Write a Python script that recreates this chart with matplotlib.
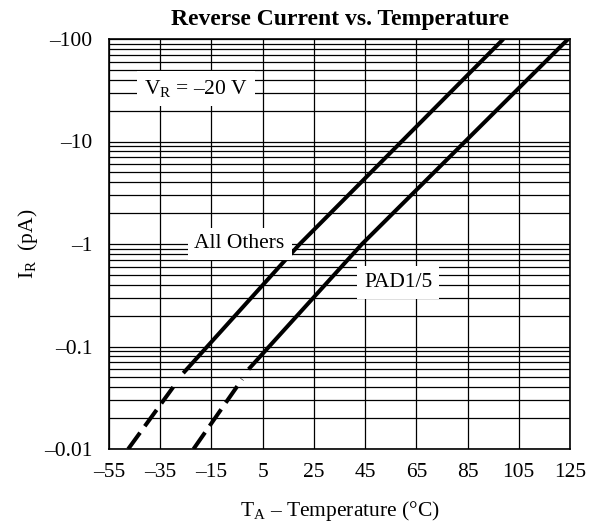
import matplotlib
matplotlib.use("Agg")
import matplotlib.pyplot as plt

plt.rcParams['font.family'] = ['Liberation Serif', 'DejaVu Serif']
plt.rcParams['mathtext.fontset'] = 'custom'
plt.rcParams['mathtext.rm'] = 'Liberation Serif'
plt.rcParams['mathtext.it'] = 'Liberation Serif:italic'

# Dados (temperatura em °C, corrente em pA)
others_dash_T = [-47.5, -28.5]
others_dash_I = [0.01, 0.045]
others_T = [-26, 19.5, 99]
others_I = [0.055, 1, 100]

pad_dash_T = [-22, -3]
pad_dash_I = [0.01, 0.048]
pad_T = [-0.5, 43.8, 124.3]
pad_I = [0.06, 1, 100]

x_ticks = [-55, -35, -15, 5, 25, 45, 65, 85, 105, 125]
y_ticks = [0.01, 0.1, 1, 10, 100]
y_labels = ['–0.01', '–0.1', '–1', '–10', '–100']

fs = 15.5

fig = plt.figure(figsize=(5.94, 5.27), dpi=100)
ax = fig.add_axes([109/594, 1 - 449/527, (570 - 109)/594, (449 - 39)/527])

ax.set_yscale('log')
ax.set_xlim(-55, 125)
ax.set_ylim(0.01, 100)

# grade
ax.set_xticks(x_ticks)
ax.set_xticklabels(['–' + str(abs(t)) if t < 0 else str(t) for t in x_ticks])
ax.set_yticks(y_ticks)
ax.set_yticklabels(y_labels)
ax.yaxis.set_minor_locator(matplotlib.ticker.LogLocator(base=10, subs=range(2, 10)))
ax.yaxis.set_minor_formatter(matplotlib.ticker.NullFormatter())
ax.grid(True, which='both', color='black', linewidth=0.9)
ax.tick_params(which='both', length=0, labelsize=fs)
ax.tick_params(axis='y', pad=12)
ax.tick_params(axis='x', pad=10)
for s in ax.spines.values():
    s.set_linewidth(1.2)

lw = 2.9
tracejado = (0, (5.0, 2.0))
ax.plot(others_T, others_I, color='black', lw=lw, solid_capstyle='butt', zorder=5)
ax.plot(others_dash_T, others_dash_I, color='black', lw=lw, linestyle=tracejado, zorder=5)
ax.plot(pad_T, pad_I, color='black', lw=lw, solid_capstyle='butt', zorder=5)
ax.plot(pad_dash_T, pad_dash_I, color='black', lw=lw, linestyle=tracejado, zorder=5)

box = dict(facecolor='white', edgecolor='none', pad=5)
ax.text(-21, 33, r'V$_\mathrm{R}$ = –20 V', fontsize=fs, ha='center', va='center', bbox=box, zorder=6)
ax.text(-4, 1.0, 'All Others', fontsize=fs, ha='center', va='center', bbox=box, zorder=6)
ax.text(58, 0.42, 'PAD1/5', fontsize=fs, ha='center', va='center', bbox=box, zorder=6)

fig.text(340/594, 1 - 20/527, 'Reverse Current vs. Temperature', fontsize=17, fontweight='bold',
         ha='center', va='center')
fig.text(340/594, 1 - 511/527, r'T$_\mathrm{A}$ – Temperature (°C)', fontsize=fs,
         ha='center', va='center')
fig.text(28/594, 1 - 244/527, r'I$_\mathrm{R}$  (pA)', fontsize=fs, rotation=90,
         ha='center', va='center')

fig.savefig('out.png', dpi=100)
